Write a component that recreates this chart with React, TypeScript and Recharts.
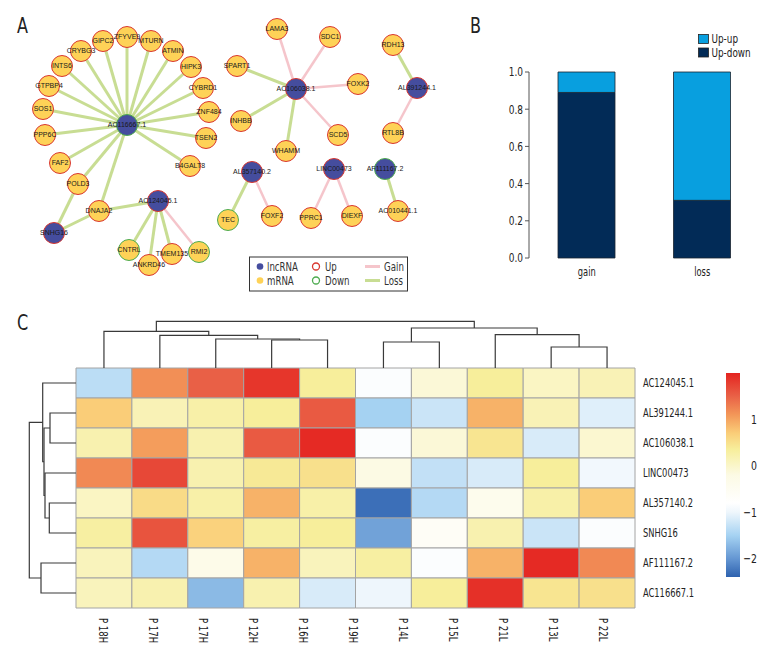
import React from 'react';
import { ScatterChart, Scatter, XAxis, YAxis, BarChart, Bar, ReferenceArea } from 'recharts';

const FONT = "'Liberation Sans Narrow', 'DejaVu Sans Condensed', sans-serif";
const NODE_FONT = "'Liberation Sans', Arial, sans-serif";

const BLUE = '#454d9e';
const YELLOW = '#fed257';
const RED = '#d9372f';
const GREEN = '#4dab4f';
const EDGE_GAIN = '#f5c5cb';
const EDGE_LOSS = '#c8dd93';

// ---- panel A: network (layout positions + regulation) ----
const lncNodes: [string, number, number, string][] = [
  ['AC116667.1', 127, 125, 'down'],
  ['AC124045.1', 158, 201, 'up'],
  ['SNHG16', 54, 233, 'up'],
  ['AC106038.1', 296, 89, 'up'],
  ['AL391244.1', 417, 88, 'up'],
  ['AL357140.2', 252, 172, 'up'],
  ['LINC00473', 334, 169, 'up'],
  ['AF111167.2', 385, 169, 'down'],
];

const mrnaNodes: [string, number, number, string][] = [
  ['GIPC2', 103, 41, 'up'],
  ['ZFYVE9', 127, 37, 'up'],
  ['MTURN', 151, 41, 'up'],
  ['ATMIN', 173, 51, 'up'],
  ['HIPK3', 191, 67, 'up'],
  ['CYBRD1', 203, 88, 'up'],
  ['ZNF484', 209, 112, 'up'],
  ['TSEN2', 206, 138, 'up'],
  ['B4GALT8', 190, 166, 'up'],
  ['CRYBG3', 81, 51, 'up'],
  ['INTS6', 62, 66, 'up'],
  ['GTPBP4', 49, 86, 'up'],
  ['SOS1', 43, 109, 'up'],
  ['PPP6C', 45, 135, 'up'],
  ['FAF2', 60, 163, 'up'],
  ['POLD3', 78, 184, 'up'],
  ['DNAJA2', 99, 211, 'up'],
  ['CNTRL', 129, 250, 'down'],
  ['ANKRD46', 149, 265, 'up'],
  ['TMEM135', 172, 254, 'up'],
  ['RMI2', 199, 252, 'down'],
  ['SPART1', 237, 66, 'up'],
  ['INHBB', 241, 121, 'up'],
  ['LAMA3', 277, 29, 'up'],
  ['SDC1', 330, 37, 'up'],
  ['FOXK2', 358, 84, 'up'],
  ['SCD5', 338, 135, 'up'],
  ['WHAMM', 286, 151, 'up'],
  ['RDH13', 393, 45, 'up'],
  ['RTL8B', 393, 133, 'up'],
  ['TEC', 228, 220, 'down'],
  ['FOXF2', 272, 216, 'up'],
  ['PPRC1', 311, 218, 'up'],
  ['DIEXF', 352, 216, 'up'],
  ['AC010441.1', 398, 211, 'up'],
];

const edges: [string, string, 'gain' | 'loss'][] = [
  ['AC116667.1', 'GIPC2', 'loss'], ['AC116667.1', 'ZFYVE9', 'loss'], ['AC116667.1', 'MTURN', 'loss'],
  ['AC116667.1', 'ATMIN', 'loss'], ['AC116667.1', 'HIPK3', 'loss'], ['AC116667.1', 'CYBRD1', 'loss'],
  ['AC116667.1', 'ZNF484', 'loss'], ['AC116667.1', 'TSEN2', 'loss'], ['AC116667.1', 'B4GALT8', 'loss'],
  ['AC116667.1', 'CRYBG3', 'loss'], ['AC116667.1', 'INTS6', 'loss'], ['AC116667.1', 'GTPBP4', 'loss'],
  ['AC116667.1', 'SOS1', 'loss'], ['AC116667.1', 'PPP6C', 'loss'], ['AC116667.1', 'FAF2', 'loss'],
  ['AC116667.1', 'POLD3', 'loss'], ['AC116667.1', 'DNAJA2', 'loss'],
  ['SNHG16', 'POLD3', 'loss'], ['SNHG16', 'DNAJA2', 'loss'],
  ['AC124045.1', 'DNAJA2', 'loss'], ['AC124045.1', 'CNTRL', 'loss'], ['AC124045.1', 'ANKRD46', 'loss'],
  ['AC124045.1', 'TMEM135', 'loss'], ['AC124045.1', 'RMI2', 'gain'],
  ['AC106038.1', 'LAMA3', 'gain'], ['AC106038.1', 'SDC1', 'gain'], ['AC106038.1', 'FOXK2', 'gain'],
  ['AC106038.1', 'SCD5', 'gain'], ['AC106038.1', 'SPART1', 'loss'], ['AC106038.1', 'INHBB', 'loss'],
  ['AC106038.1', 'WHAMM', 'loss'],
  ['AL391244.1', 'RDH13', 'loss'], ['AL391244.1', 'RTL8B', 'gain'],
  ['AL357140.2', 'TEC', 'loss'], ['AL357140.2', 'FOXF2', 'gain'],
  ['LINC00473', 'PPRC1', 'gain'], ['LINC00473', 'DIEXF', 'gain'],
  ['AF111167.2', 'AC010441.1', 'loss'],
];

// ---- panel B ----
const barCategories = ['gain', 'loss'];
const upDownShare = [0.89, 0.31];
const upUpShare = [0.11, 0.69];
const UPUP = '#089fdf';
const UPDOWN = '#022b57';

// ---- panel C: heatmap ----
const rowNames = ['AC124045.1', 'AL391244.1', 'AC106038.1', 'LINC00473', 'AL357140.2', 'SNHG16', 'AF111167.2', 'AC116667.1'];
const colLabels = ['P 18H', 'P 17H', 'P 17H', 'P 12H', 'P 16H', 'P 19H', 'P 14L', 'P 15L', 'P 21L', 'P 13L', 'P 22L'];
const zAC124045 = [-1.35, 1.15, 1.5, 1.85, 0.35, -0.85, -0.1, 0.35, 0.05, 0.15];
const zAL391244 = [0.7, 0.15, 0.25, 0.35, 1.55, -1.5, -1.25, 0.9, 0.15, -1.1];
const zAC106038 = [0.2, 1.05, 0.2, 1.55, 1.95, -0.85, -0.1, 0.45, -1.15, -0.05];
const zLINC00473 = [1.2, 1.7, 0.2, 0.4, 0.5, -0.2, -1.3, -1.15, 0.35, -0.95];
const zAL357140 = [0.05, 0.55, 0.25, 0.9, 0.25, -2.3, -1.4, -0.4, 0.25, 0.7];
const zSNHG16 = [0.3, 1.6, 0.65, 0.3, 0.35, -1.9, -0.6, 0.2, -1.25, -0.85];
const zAF111167 = [0.1, -1.4, -0.3, 0.9, 0.1, 0.3, -0.85, 0.9, 1.95, 1.2];
const zAC116667 = [0.1, 0.2, -1.7, 0.2, -1.15, -1.0, 0.35, 1.9, 0.45, 0.5];
const heatRows = [zAC124045, zAL391244, zAC106038, zLINC00473, zAL357140, zSNHG16, zAF111167, zAC116667];

// dendrograms (hclust-style merges: negative = leaf, positive = earlier merge)
const colMerges: [number, number][] = [[-4, -5], [-3, 1], [-2, 2], [-1, 3], [-6, -7], [-9, -10], [-8, 6], [5, 7], [4, 8]];
const colHeights = [2.8, 2.9, 3.26, 3.66, 2.6, 2.1, 3.33, 4.0, 4.66];
const rowMerges: [number, number][] = [[-2, -3], [-5, -6], [-4, 2], [1, 3], [-1, 4], [-7, -8], [5, 6]];
const rowHeights = [2.6, 2.67, 3.1, 3.2, 3.33, 3.5, 4.67];

const colorMin = -2.39;
const colorMax = 1.99;
const colorTicks = [-2, -1, 0, 1];

const colorStops: [number, number[]][] = [
  [-2.4, [46, 98, 175]],
  [-2.0, [100, 150, 210]],
  [-1.5, [165, 210, 242]],
  [-1.0, [238, 246, 252]],
  [-0.8, [255, 255, 255]],
  [-0.2, [252, 250, 228]],
  [0.35, [247, 238, 155]],
  [0.7, [250, 205, 120]],
  [1.1, [243, 150, 88]],
  [1.5, [233, 96, 70]],
  [2.0, [228, 36, 32]],
];

function heatColor(v: number) {
  if (v <= colorStops[0][0]) return `rgb(${colorStops[0][1].join(',')})`;
  for (let i = 1; i < colorStops.length; i++) {
    const [v1, c1] = colorStops[i];
    const [v0, c0] = colorStops[i - 1];
    if (v <= v1) {
      const t = (v - v0) / (v1 - v0);
      const c = c0.map((a, k) => Math.round(a + (c1[k] - a) * t));
      return `rgb(${c.join(',')})`;
    }
  }
  return `rgb(${colorStops[colorStops.length - 1][1].join(',')})`;
}

function dendroPaths(merges: [number, number][], heights: number[]) {
  const pos: number[] = [];
  const hgt: number[] = [];
  const paths: { p: number; h: number }[][] = [];
  merges.forEach(([a, b], k) => {
    const pa = a < 0 ? -a - 0.5 : pos[a - 1];
    const ha = a < 0 ? 0 : hgt[a - 1];
    const pb = b < 0 ? -b - 0.5 : pos[b - 1];
    const hb = b < 0 ? 0 : hgt[b - 1];
    const h = heights[k];
    paths.push([{ p: pa, h: ha }, { p: pa, h }, { p: pb, h }, { p: pb, h: hb }]);
    pos.push((pa + pb) / 2);
    hgt.push(h);
  });
  return paths;
}

// condensed text: the figure uses a narrow font, squeeze DejaVu Condensed a bit
const Narrow = ({ x, y, anchor = 'start', size = 12, sx = 0.76, rotate = 0, dy = '0.35em', fill = '#222', children }: any) => (
  <text transform={`translate(${x},${y})${rotate ? ` rotate(${rotate})` : ''} scale(${sx},1)`}
    textAnchor={anchor} dy={dy} fontSize={size} fontFamily={FONT} fill={fill}>
    {children}
  </text>
);

const Empty = () => <g />;

const NodeShape = (props: any) => {
  const { cx, cy, payload } = props;
  return (
    <circle cx={cx} cy={cy} r={10.5}
      fill={payload.kind === 'lnc' ? BLUE : YELLOW}
      stroke={payload.reg === 'up' ? RED : GREEN} strokeWidth={1} />
  );
};

const NodeLabel = (props: any) => {
  const { cx, cy, payload } = props;
  return (
    <text x={cx} y={cy} dy="0.35em" textAnchor="middle" fontSize={7} fill="#1a1a1a" fontFamily={NODE_FONT}>
      {payload.name}
    </text>
  );
};

const Network = () => {
  const nodes = [
    ...lncNodes.map(([name, x, y, reg]) => ({ name, x, y, reg, kind: 'lnc' })),
    ...mrnaNodes.map(([name, x, y, reg]) => ({ name, x, y, reg, kind: 'm' })),
  ];
  const byName: Record<string, any> = {};
  nodes.forEach((n) => (byName[n.name] = n));
  return (
    <ScatterChart width={480} height={300} margin={{ top: 0, right: 0, bottom: 0, left: 0 }}>
      <XAxis type="number" dataKey="x" domain={[0, 480]} allowDataOverflow hide />
      <YAxis type="number" dataKey="y" domain={[0, 300]} allowDataOverflow reversed hide />
      {edges.map(([a, b, kind], i) => (
        <Scatter key={`e${i}`} data={[byName[a], byName[b]]} shape={Empty} isAnimationActive={false}
          line={{ stroke: kind === 'gain' ? EDGE_GAIN : EDGE_LOSS, strokeWidth: kind === 'gain' ? 2.5 : 3 }} />
      ))}
      <Scatter data={nodes} shape={NodeShape} isAnimationActive={false} />
      <Scatter data={nodes} shape={NodeLabel} isAnimationActive={false} />
    </ScatterChart>
  );
};

const BarYTick = (props: any) => (
  <Narrow x={props.x} y={props.y} anchor="end" size={12.5} sx={0.8}>{Number(props.payload.value).toFixed(1)}</Narrow>
);
const BarXTick = (props: any) => (
  <Narrow x={props.x} y={props.y + 6} anchor="middle" size={12.5} sx={0.74}>{props.payload.value}</Narrow>
);

const ShareBars = () => {
  const data = barCategories.map((cat, i) => ({ cat, upDown: upDownShare[i], upUp: upUpShare[i] }));
  return (
    <BarChart width={300} height={300} data={data} margin={{ top: 72, right: 20, bottom: 12, left: 0 }}>
      <XAxis dataKey="cat" axisLine={false} tickLine={false} height={30} tick={BarXTick} />
      <YAxis domain={[0, 1]} ticks={[0, 0.2, 0.4, 0.6, 0.8, 1]} width={49} tickSize={4}
        axisLine={{ stroke: '#555' }} tickLine={{ stroke: '#555' }} tick={BarYTick} />
      <Bar dataKey="upDown" name="Up-down" stackId="s" fill={UPDOWN} stroke="#1b2430" strokeWidth={0.8} barSize={57} isAnimationActive={false} />
      <Bar dataKey="upUp" name="Up-up" stackId="s" fill={UPUP} stroke="#1b2430" strokeWidth={0.8} barSize={57} isAnimationActive={false} />
    </BarChart>
  );
};

const ColTick = (props: any) => (
  <Narrow x={props.x} y={props.y + 2} rotate={90} size={12.5} sx={0.76}>{colLabels[props.payload.value]}</Narrow>
);
const RowTick = (props: any) => (
  <Narrow x={props.x} y={props.y} size={12.5} sx={0.74}>{rowNames[Math.floor(props.payload.value)]}</Narrow>
);

const Heatmap = () => {
  const cells: { x: number; y: number; v: number }[] = [];
  heatRows.forEach((row, i) => row.forEach((v, j) => cells.push({ x: j + 0.5, y: i + 0.5, v })));
  const labelPts = colLabels.map((name, k) => ({ lx: k, y: 8, name }));
  return (
    <ScatterChart width={780} height={360} margin={{ top: 68, right: 0, bottom: 0, left: 76 }}>
      <XAxis type="number" dataKey="x" domain={[0, 10]} allowDataOverflow hide height={0} />
      <XAxis xAxisId="lab" type="number" dataKey="lx" domain={[-0.546, 10.634]} allowDataOverflow
        ticks={colLabels.map((_, k) => k)} interval={0} height={52} axisLine={false} tickLine={false} tick={ColTick} />
      <YAxis type="number" dataKey="y" orientation="right" domain={[0, 8]} allowDataOverflow reversed
        ticks={rowNames.map((_, k) => k + 0.5)} interval={0}
        width={145} axisLine={false} tickLine={false} tick={RowTick} />
      {cells.map((c, k) => (
        <ReferenceArea key={k} x1={c.x - 0.5} x2={c.x + 0.5} y1={c.y - 0.5} y2={c.y + 0.5}
          fill={heatColor(c.v)} fillOpacity={1} stroke="#a4a4a4" strokeWidth={1} ifOverflow="visible" />
      ))}
      <Scatter data={cells} shape={Empty} isAnimationActive={false} />
      <Scatter xAxisId="lab" data={labelPts} shape={Empty} isAnimationActive={false} />
    </ScatterChart>
  );
};

const TopDendro = () => {
  const paths = dendroPaths(colMerges, colHeights);
  return (
    <ScatterChart width={559} height={50} margin={{ top: 0, right: 0, bottom: 0, left: 0 }}>
      <XAxis type="number" dataKey="x" domain={[0, 10]} allowDataOverflow hide />
      <YAxis type="number" dataKey="y" domain={[0, 5]} allowDataOverflow hide />
      {paths.map((pts, i) => (
        <Scatter key={i} data={pts.map((q) => ({ x: q.p, y: q.h }))} shape={Empty} isAnimationActive={false}
          line={{ stroke: '#3a3a3a', strokeWidth: 1.2 }} />
      ))}
    </ScatterChart>
  );
};

const LeftDendro = () => {
  const paths = dendroPaths(rowMerges, rowHeights);
  return (
    <ScatterChart width={50} height={240} margin={{ top: 0, right: 0, bottom: 0, left: 0 }}>
      <XAxis type="number" dataKey="x" domain={[0, 5]} allowDataOverflow reversed hide />
      <YAxis type="number" dataKey="y" domain={[0, 8]} allowDataOverflow reversed hide />
      {paths.map((pts, i) => (
        <Scatter key={i} data={pts.map((q) => ({ x: q.h, y: q.p }))} shape={Empty} isAnimationActive={false}
          line={{ stroke: '#3a3a3a', strokeWidth: 1.2 }} />
      ))}
    </ScatterChart>
  );
};

const ColorTick = (props: any) => {
  const v = props.payload.value as number;
  return (
    <Narrow x={props.x + 9} y={props.y} anchor="end" size={13} sx={0.8}>
      {v < 0 ? `\u2212${Math.abs(v)}` : `${v}`}
    </Narrow>
  );
};

const ColorBar = () => {
  const span = colorMax - colorMin;
  return (
    <ScatterChart width={50} height={232} margin={{ top: 13, right: 0, bottom: 15, left: 6 }}>
      <defs>
        <linearGradient id="cbar" x1="0" y1="0" x2="0" y2="1">
          {colorStops.slice().reverse().map(([v], i) => (
            <stop key={i} offset={`${Math.min(1, Math.max(0, (colorMax - v) / span)) * 100}%`} stopColor={heatColor(v)} />
          ))}
        </linearGradient>
      </defs>
      <XAxis type="number" dataKey="x" domain={[0, 1]} allowDataOverflow hide />
      <YAxis type="number" dataKey="y" orientation="right" domain={[colorMin, colorMax]} allowDataOverflow
        ticks={colorTicks} interval={0} width={30} axisLine={false} tickLine={false} tick={ColorTick} />
      <ReferenceArea x1={0} x2={1} y1={colorMin} y2={colorMax} fill="url(#cbar)" fillOpacity={1} stroke="none" />
      <Scatter data={colorTicks.map((v) => ({ x: 0.5, y: v }))} shape={Empty} isAnimationActive={false} />
    </ScatterChart>
  );
};

const Overlay = () => (
  <svg width={780} height={660} style={{ position: 'absolute', left: 0, top: 0, pointerEvents: 'none' }}>
    <Narrow x={17} y={26} size={21} sx={0.85}>A</Narrow>
    <Narrow x={470} y={26} size={21} sx={0.85}>B</Narrow>
    <Narrow x={17} y={323} size={21} sx={0.85}>C</Narrow>
    {/* network legend */}
    <rect x={249.5} y={257} width={158} height={34} fill="#fff" stroke="#333" strokeWidth={1} />
    <circle cx={260} cy={266.5} r={3.3} fill={BLUE} />
    <Narrow x={267} y={266.5} size={12} sx={0.8} fill="#333">lncRNA</Narrow>
    <circle cx={260} cy={280.5} r={3.3} fill={YELLOW} />
    <Narrow x={267} y={280.5} size={12} sx={0.8} fill="#333">mRNA</Narrow>
    <circle cx={316} cy={266.5} r={3.5} fill="none" stroke={RED} strokeWidth={1.3} />
    <Narrow x={325} y={266.5} size={12} sx={0.8} fill="#333">Up</Narrow>
    <circle cx={316} cy={280.5} r={3.5} fill="none" stroke={GREEN} strokeWidth={1.3} />
    <Narrow x={325} y={280.5} size={12} sx={0.8} fill="#333">Down</Narrow>
    <line x1={365} x2={380} y1={266.5} y2={266.5} stroke={EDGE_GAIN} strokeWidth={3} />
    <Narrow x={384} y={266.5} size={12} sx={0.8} fill="#333">Gain</Narrow>
    <line x1={365} x2={380} y1={280.5} y2={280.5} stroke={EDGE_LOSS} strokeWidth={3} />
    <Narrow x={384} y={280.5} size={12} sx={0.8} fill="#333">Loss</Narrow>
    {/* bar legend */}
    <rect x={698.5} y={34.5} width={10} height={9} fill={UPUP} stroke="#222" strokeWidth={0.8} />
    <Narrow x={711.5} y={38.7} size={12} sx={0.82}>Up-up</Narrow>
    <rect x={698.5} y={48} width={10} height={9} fill={UPDOWN} stroke="#222" strokeWidth={0.8} />
    <Narrow x={711.5} y={52.3} size={12} sx={0.82}>Up-down</Narrow>
  </svg>
);

const abs = (left: number, top: number): React.CSSProperties => ({ position: 'absolute', left, top });

export default function App() {
  return (
    <div style={{ position: 'absolute', left: 0, top: 0, width: 780, height: 660, background: '#fff', overflow: 'hidden' }}>
      <div style={abs(0, 0)}><Network /></div>
      <div style={abs(480, 0)}><ShareBars /></div>
      <div style={abs(0, 300)}><Heatmap /></div>
      <div style={abs(76, 318)}><TopDendro /></div>
      <div style={abs(26, 368)}><LeftDendro /></div>
      <div style={abs(720, 360)}><ColorBar /></div>
      <Overlay />
    </div>
  );
}
